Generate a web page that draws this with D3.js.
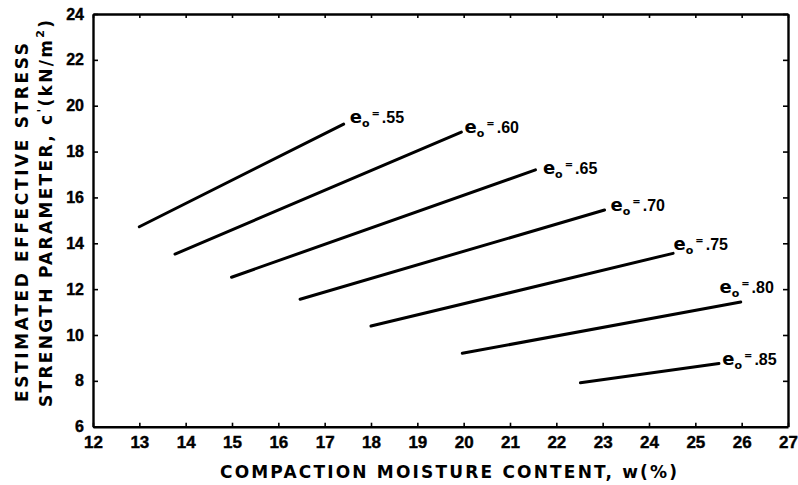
<!DOCTYPE html>
<html>
<head>
<meta charset="utf-8">
<script src="https://cdn.jsdelivr.net/npm/d3@7"></script>
<style>
  html, body { margin: 0; padding: 0; background: #fff; }
  svg { display: block; }
  text { fill: #000; }
</style>
</head>
<body>
<svg id="chart" width="798" height="485"></svg>
<script>
// Estimated effective stress strength parameter c' versus compaction moisture content,
// one straight line per initial void ratio e0.
const voidRatios = [0.55, 0.60, 0.65, 0.70, 0.75, 0.80, 0.85];
const wStart = [13.0, 13.77, 14.99, 16.47, 18.0, 19.97, 22.52];
const wEnd   = [17.41, 19.95, 21.55, 23.04, 24.52, 25.98, 25.51];
const cStart = [14.72, 13.53, 12.52, 11.56, 10.39, 9.20, 7.92];
const cEnd   = [19.20, 18.85, 17.20, 15.45, 13.56, 11.44, 8.76];
// label anchors, in chart units (moisture %, kN/m²)
const labelW = [17.54, 20.02, 21.71, 23.17, 24.53, 25.52, 25.58];
const labelC = [19.24, 18.80, 17.02, 15.41, 13.71, 11.83, 8.69];

const xTicks = d3.range(12, 28, 1);
const yTicks = d3.range(6, 25, 2);

const svg = d3.select("#chart");
const plotLeft = 93, plotRight = 788, plotTop = 14, plotBottom = 426.7;

const x = d3.scaleLinear().domain([12, 27]).range([plotLeft, plotRight]);
const y = d3.scaleLinear().domain([6, 24]).range([plotBottom, plotTop]);

const tickFont = "'Liberation Sans Narrow', 'Liberation Sans', Arial, sans-serif";
const titleFont = "'DejaVu Sans', Verdana, sans-serif";

// bottom axis: ticks point inward, labels below
const xAxis = svg.append("g")
  .attr("transform", `translate(0,${plotBottom})`)
  .call(d3.axisBottom(x).tickValues(xTicks).tickSizeInner(-4).tickSizeOuter(0).tickPadding(9));
xAxis.selectAll("text")
  .attr("font-family", tickFont).attr("font-weight", "bold").attr("font-size", 17)
  .attr("stroke", "#000").attr("stroke-width", 0.4);

// left axis
const yAxis = svg.append("g")
  .attr("transform", `translate(${plotLeft},0)`)
  .call(d3.axisLeft(y).tickValues(yTicks).tickSizeInner(-5).tickSizeOuter(0).tickPadding(9));
yAxis.selectAll("text")
  .attr("font-family", tickFont).attr("font-weight", "bold").attr("font-size", 16)
  .attr("stroke", "#000").attr("stroke-width", 0.4);

// top and right frame, with inward ticks and no labels
svg.append("g")
  .attr("transform", `translate(0,${plotTop})`)
  .call(d3.axisTop(x).tickValues(xTicks).tickSizeInner(-4).tickSizeOuter(0).tickFormat(""));
svg.append("g")
  .attr("transform", `translate(${plotRight},0)`)
  .call(d3.axisRight(y).tickValues(yTicks).tickSizeInner(-5).tickSizeOuter(0).tickFormat(""));

svg.selectAll(".domain").attr("stroke", "#000").attr("stroke-width", 2.4);
svg.selectAll(".tick line").attr("stroke", "#000").attr("stroke-width", 1.6);

// one line per void ratio
const lines = voidRatios.map((e, i) => ({
  e,
  pts: [[wStart[i], cStart[i]], [wEnd[i], cEnd[i]]],
  lw: labelW[i], lc: labelC[i]
}));

const line = d3.line().x(d => x(d[0])).y(d => y(d[1]));

svg.append("g").selectAll("path")
  .data(lines)
  .join("path")
  .attr("d", d => line(d.pts))
  .attr("fill", "none")
  .attr("stroke", "#000")
  .attr("stroke-width", 3)
  .attr("stroke-linecap", "round");

// labels "e₀ = .55" etc.
const fmt = v => d3.format(".2f")(v).replace(/^0/, "");
const labels = svg.append("g").selectAll("text")
  .data(lines)
  .join("text")
  .attr("x", d => x(d.lw))
  .attr("y", d => y(d.lc))
  .attr("font-family", titleFont)
  .attr("font-weight", "bold");
labels.append("tspan").attr("font-size", 18).text("e");
labels.append("tspan").attr("font-size", 11).attr("dy", 4).text("o");
labels.append("tspan").attr("font-size", 10).attr("dy", -10).attr("dx", 2).text("=");
labels.append("tspan").attr("font-size", 16).attr("dy", 6).attr("dx", 2)
  .attr("font-family", "'Liberation Sans', Arial, sans-serif")
  .text(d => fmt(d.e));

// x axis title
svg.append("text")
  .attr("x", 220).attr("y", 478)
  .attr("font-family", titleFont).attr("font-weight", "bold").attr("font-size", 17)
  .attr("textLength", 457).attr("lengthAdjust", "spacing")
  .text("COMPACTION MOISTURE CONTENT, w(%)");

// y axis title, two rotated lines
svg.append("text")
  .attr("transform", "translate(28,402) rotate(-90)")
  .attr("font-family", titleFont).attr("font-weight", "bold").attr("font-size", 17)
  .attr("textLength", 359).attr("lengthAdjust", "spacing")
  .text("ESTIMATED EFFECTIVE STRESS");

const t2 = svg.append("text")
  .attr("transform", "translate(52,407) rotate(-90)")
  .attr("font-family", titleFont).attr("font-weight", "bold").attr("font-size", 17)
  .attr("textLength", 387).attr("lengthAdjust", "spacing");
t2.append("tspan").text("STRENGTH PARAMETER, c");
t2.append("tspan").attr("font-size", 12).attr("dy", -6).text("'");
t2.append("tspan").attr("dy", 6).text("(kN/m");
t2.append("tspan").attr("font-size", 11).attr("dy", -8).text("2");
t2.append("tspan").attr("dy", 8).text(")");
</script>
</body>
</html>
